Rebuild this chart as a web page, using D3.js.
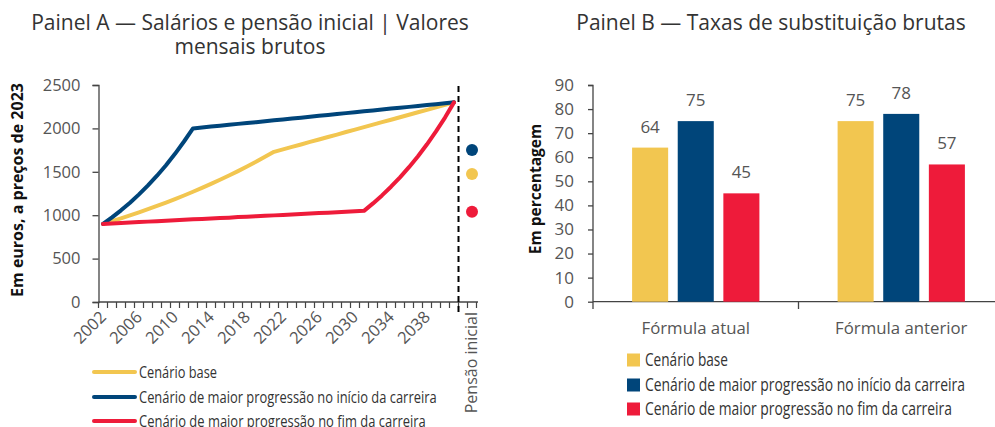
<!DOCTYPE html>
<html><head><meta charset="utf-8">
<script src="https://cdn.jsdelivr.net/npm/d3@7"></script>
<style>
body{margin:0;background:#fff;}
text{font-family:"Open Sans",sans-serif;}
</style></head>
<body><svg id="c" width="995" height="427"></svg>
<script>
// ---- Data ----
const years = d3.range(2002, 2042);
const baseScenario = [900,932,964,998,1033,1069,1107,1145,1185,1227,1270,1314,1360,1408,1457,1508,1561,1615,1672,1730,
  1758,1787,1815,1844,1872,1901,1929,1958,1986,2015,2043,2072,2100,2129,2157,2186,2214,2243,2271,2300];
const earlyScenario = [900,975,1056,1144,1240,1343,1455,1576,1707,1849,2000,2010,2021,2031,2041,2052,2062,2072,2083,2093,
  2103,2114,2124,2134,2145,2155,2166,2176,2186,2197,2207,2217,2228,2238,2248,2259,2269,2279,2290,2300];
const lateScenario = [900,905,910,916,921,926,931,936,941,947,952,957,962,967,972,978,983,988,993,998,
  1003,1009,1014,1019,1024,1029,1034,1040,1045,1050,1136,1228,1328,1436,1553,1680,1817,1965,2125,2300];
const initialPension = [1475, 1750, 1040]; // base, early, late
const yTicksA = [0,500,1000,1500,2000,2500];
const xTickLabelsA = [2002,2006,2010,2014,2018,2022,2026,2030,2034,2038];

const groupsB = ["Fórmula atual","Fórmula anterior"];
const rateBase = [64,75];
const rateEarly = [75,78];
const rateLate = [45,57];
const yTicksB = [0,10,20,30,40,50,60,70,80,90];

const seriesNames = ["Cenário base","Cenário de maior progressão no início da carreira","Cenário de maior progressão no fim da carreira"];
const colors = ["#F2C650","#00457A","#EE1B3A"];

const svg = d3.select("#c");
const axisColor = "#444", tickTxt = "#555", titleColor = "#333";

function fitText(g, x, y, size, target, str){
  const t = g.append("text").attr("x",0).attr("y",0).attr("dy","0.35em").attr("font-size",size).attr("fill","#333").text(str);
  const w = t.node().getComputedTextLength();
  t.attr("transform",`translate(${x},${y}) scale(${target/w},1)`);
  return t;
}

// ---- Panel A ----
const catsA = years.map(String).concat(["_gap","Pensão inicial"]);
const xA = d3.scaleBand().domain(catsA).range([98.5, 476.5]).paddingInner(0).paddingOuter(0);
const yA = d3.scaleLinear().domain([0,2500]).range([302,85]);
const cx = c => xA(String(c)) + xA.bandwidth()/2;

const gA = svg.append("g");
gA.append("g").attr("transform","translate(98.5,0)")
  .call(d3.axisLeft(yA).tickValues(yTicksA).tickSize(6).tickPadding(12).tickFormat(d3.format("d")))
  .call(g=>{g.selectAll("path,line").attr("stroke",axisColor).attr("stroke-width",1.3);
    g.selectAll("text").attr("fill",tickTxt).attr("font-size",16.5).attr("font-family","Open Sans");});
gA.append("line").attr("x1",98.5).attr("x2",478).attr("y1",302).attr("y2",302).attr("stroke",axisColor).attr("stroke-width",1.3);
const bounds = catsA.map(c=>xA(c)).concat([xA(catsA[catsA.length-1])+xA.bandwidth()]);
gA.selectAll(".tk").data(bounds).join("line").attr("x1",d=>d).attr("x2",d=>d).attr("y1",302).attr("y2",308)
  .attr("stroke",axisColor).attr("stroke-width",1.2);
gA.selectAll(".xl").data(xTickLabelsA).join("text")
  .attr("transform",d=>`translate(${cx(d)},${314}) rotate(-45)`)
  .attr("text-anchor","end").attr("font-size",16.5).attr("fill",tickTxt).attr("dy","0.35em").text(d=>d);
gA.append("text").attr("transform",`translate(${cx("Pensão inicial")+5},312) rotate(-90)`)
  .attr("text-anchor","end").attr("font-size",16).attr("fill",tickTxt).text("Pensão inicial");
const sepX = xA("_gap");
gA.append("line").attr("x1",sepX).attr("x2",sepX).attr("y1",86).attr("y2",313)
  .attr("stroke","#000").attr("stroke-width",2).attr("stroke-dasharray","6,4");
const line = d3.line().x((d,i)=>cx(years[i])).y(d=>yA(d));
[baseScenario, earlyScenario, lateScenario].forEach((s,i)=>{
  gA.append("path").datum(s).attr("d",line).attr("fill","none").attr("stroke",colors[i])
    .attr("stroke-width",4).attr("stroke-linejoin","round").attr("stroke-linecap","round");
});
initialPension.forEach((v,i)=>{
  gA.append("circle").attr("cx",cx("Pensão inicial")).attr("cy",yA(v)).attr("r",6).attr("fill",colors[i]);
});
gA.append("text").attr("x",250).attr("y",30).attr("text-anchor","middle").attr("font-size",21).attr("fill",titleColor)
  .text("Painel A — Salários e pensão inicial | Valores");
gA.append("text").attr("x",250).attr("y",54).attr("text-anchor","middle").attr("font-size",21).attr("fill",titleColor)
  .text("mensais brutos");
gA.append("text").attr("transform","translate(23,190) rotate(-90)").attr("text-anchor","middle")
  .attr("font-size",16).attr("font-weight","bold").attr("fill","#111").text("Em euros, a preços de 2023");
const legAY = [372, 397, 421];
const legAW = [78, 298, 287];
seriesNames.forEach((n,i)=>{
  gA.append("line").attr("x1",94).attr("x2",135).attr("y1",legAY[i]).attr("y2",legAY[i])
    .attr("stroke",colors[i]).attr("stroke-width",4).attr("stroke-linecap","round");
  fitText(gA, 139, legAY[i], 17, legAW[i], n);
});

// ---- Panel B ----
const gB = svg.append("g");
const x0 = d3.scaleBand().domain(groupsB).range([593, 1004]);
const x1 = d3.scaleBand().domain([0,1,2]).range([0, x0.bandwidth()]).paddingInner(0.21).paddingOuter(0.857);
const yB = d3.scaleLinear().domain([0,90]).range([301.7,85]);
gB.append("g").attr("transform","translate(593,0)")
  .call(d3.axisLeft(yB).tickValues(yTicksB).tickSize(5).tickPadding(14))
  .call(g=>{g.selectAll("path,line").attr("stroke",axisColor).attr("stroke-width",1.3);
    g.select(".domain").attr("d","M-5,85.5H0V309");
    g.selectAll("text").attr("fill",tickTxt).attr("font-size",17).attr("font-family","Open Sans");});
gB.append("line").attr("x1",593).attr("x2",995).attr("y1",301.7).attr("y2",301.7).attr("stroke",axisColor).attr("stroke-width",1.3);
gB.append("line").attr("x1",x0("Fórmula anterior")).attr("x2",x0("Fórmula anterior")).attr("y1",301.7).attr("y2",309)
  .attr("stroke",axisColor).attr("stroke-width",1.3);
const dataB = groupsB.map((g,gi)=>[rateBase[gi],rateEarly[gi],rateLate[gi]]);
groupsB.forEach((g,gi)=>{
  dataB[gi].forEach((v,si)=>{
    const bx = x0(g)+x1(si);
    gB.append("rect").attr("x",bx).attr("width",x1.bandwidth()).attr("y",yB(v)).attr("height",yB(0)-yB(v)).attr("fill",colors[si]);
    gB.append("text").attr("x",bx+x1.bandwidth()/2).attr("y",yB(v)-15).attr("text-anchor","middle")
      .attr("font-size",17).attr("fill",tickTxt).text(v);
  });
  gB.append("text").attr("x",x0(g)+x0.bandwidth()/2).attr("y",334).attr("text-anchor","middle")
    .attr("font-size",16.8).attr("fill",tickTxt).text(g);
});
gB.append("text").attr("x",771).attr("y",30).attr("text-anchor","middle").attr("font-size",21).attr("fill",titleColor)
  .text("Painel B — Taxas de substituição brutas");
gB.append("text").attr("transform","translate(541,189) rotate(-90)").attr("text-anchor","middle")
  .attr("font-size",15.5).attr("font-weight","bold").attr("fill","#111").text("Em percentagem");
const legBY = [360, 385, 409];
const legBW = [83, 320, 307];
seriesNames.forEach((n,i)=>{
  gB.append("rect").attr("x",627).attr("y",legBY[i]-6.5).attr("width",13).attr("height",13).attr("fill",colors[i]);
  fitText(gB, 645, legBY[i], 18.5, legBW[i], n);
});
</script></body></html>
